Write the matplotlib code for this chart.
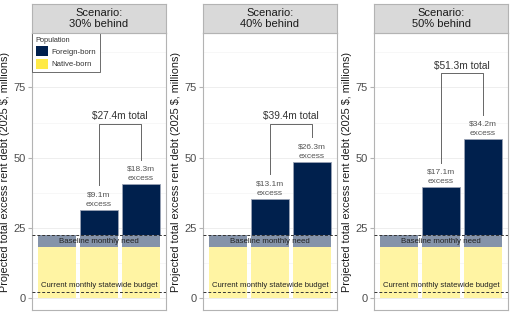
"""
Excess rent debt by scenario: three facet-style panels with stacked bars.
"""
import matplotlib.pyplot as plt
from matplotlib.patches import Patch
from matplotlib.ticker import MultipleLocator

plt.rcParams['font.family'] = ['Liberation Sans', 'DejaVu Sans']

# Data
scenarios = ["30% behind", "40% behind", "50% behind"]
bar_x = [1, 2, 3]
native_level = 18.0          # native-born part, same in every bar
baseline_need = 22.3         # baseline monthly need
statewide_budget = 2.1       # current monthly statewide budget
excess_mid = [9.1, 13.1, 17.1]     # foreign-born excess, bar 2
excess_high = [18.3, 26.3, 34.2]   # foreign-born excess, bar 3
totals = [27.4, 39.4, 51.3]
bracket_top = [62.0, 62.0, 80.0]

# Colours
NAVY = '#00204D'
YELLOW = '#FFEA46'
YELLOW_BAR = '#FFF4A3'
GREY_BAND = '#8593A9'
BORDER = '#B3B3B3'

W, H = 512, 328
fig = plt.figure(figsize=(W / 100, H / 100), dpi=100)

lefts = [32, 203, 374]
pw = 134
top_px, bot_px = 33, 310
strip_top = 4


def frac(x0, y0, w, h):
    return [x0 / W, 1 - (y0 + h) / H, w / W, h / H]


for i, scen in enumerate(scenarios):
    ax = fig.add_axes(frac(lefts[i], top_px, pw, bot_px - top_px))
    ax.set_xlim(0.4, 3.6)
    ax.set_ylim(-4.3, 94.4)

    # grid
    ax.yaxis.set_major_locator(MultipleLocator(25))
    ax.yaxis.set_minor_locator(MultipleLocator(12.5))
    ax.grid(True, which='major', axis='y', color='#EBEBEB', linewidth=0.6)
    ax.grid(True, which='minor', axis='y', color='#F2F2F2', linewidth=0.4)
    ax.set_axisbelow(True)

    # bars: native-born, baseline band, foreign-born excess
    ax.bar(bar_x, [native_level] * 3, width=0.9, color=YELLOW_BAR, zorder=2)
    ax.bar(bar_x, [baseline_need - native_level] * 3, bottom=native_level,
           width=0.9, color=GREY_BAND, zorder=2)
    excess = [excess_mid[i], excess_high[i]]
    ax.bar(bar_x[1:], excess, bottom=baseline_need, width=0.9, color=NAVY,
           edgecolor='#9AA3B5', linewidth=0.6, zorder=3)

    # reference lines
    ax.axhline(baseline_need, color='#333333', linestyle=(0, (3, 2)), linewidth=0.7, zorder=4)
    ax.axhline(statewide_budget, color='#333333', linestyle=(0, (3, 2)), linewidth=0.7, zorder=4)
    ax.text(2, (native_level + baseline_need) / 2, "Baseline monthly need",
            ha='center', va='center', fontsize=5.7, color='#222222', zorder=5)
    ax.text(2, statewide_budget + 2.2, "Current monthly statewide budget",
            ha='center', va='center', fontsize=5.6, color='#222222', zorder=5)

    # excess labels
    tops = [baseline_need + e for e in excess]
    for xb, e, t in zip(bar_x[1:], excess, tops):
        ax.text(xb, t + 0.7, f"${e}m\nexcess", ha='center', va='bottom',
                fontsize=6.0, color='#555555', linespacing=1.5)

    # bracket
    bt = bracket_top[i]
    ax.plot([2, 2, 3, 3], [tops[0] + 8.7, bt, bt, tops[1] + 8.7],
            color='#666666', linewidth=0.7, zorder=4)
    ax.text(2.5, bt + 2.8, f"${totals[i]}m total", ha='center', va='center',
            fontsize=7.3, color='#333333')

    # axes styling
    for s in ax.spines.values():
        s.set_color(BORDER)
        s.set_linewidth(0.8)
    ax.set_xticks([])
    ax.tick_params(axis='y', which='major', length=3, color=BORDER,
                   labelsize=8, labelcolor='#4D4D4D', pad=1.5)
    ax.tick_params(axis='y', which='minor', length=0)
    ax.set_yticks([0, 25, 50, 75])
    ax.set_ylabel("Projected total excess rent debt (2025 $, millions)",
                  fontsize=7.8, color='#1A1A1A', labelpad=2.5)

    # strip
    sax = fig.add_axes(frac(lefts[i], strip_top, pw, top_px - strip_top))
    sax.set_facecolor('#D9D9D9')
    sax.set_xticks([])
    sax.set_yticks([])
    for s in sax.spines.values():
        s.set_color(BORDER)
        s.set_linewidth(0.8)
    sax.text(0.5, 0.5, f"Scenario:\n{scen}", ha='center', va='center',
             fontsize=8, color='#1A1A1A', transform=sax.transAxes, linespacing=1.15)

    if i == 0:
        handles = [Patch(facecolor=NAVY, label='Foreign-born'),
                   Patch(facecolor=YELLOW, label='Native-born')]
        leg = ax.legend(handles=handles, title='Population', loc='upper left',
                        bbox_to_anchor=(0, 1), borderaxespad=0, fontsize=5.6,
                        title_fontsize=5.3, handlelength=1.55, handleheight=1.6,
                        handletextpad=0.5, labelspacing=0.35, borderpad=0.45,
                        fancybox=False, framealpha=1, edgecolor='#555555')
        leg.get_frame().set_linewidth(0.6)
        leg._legend_box.align = 'left'
        for t in leg.get_texts():
            t.set_color('#333333')
        leg.get_title().set_color('#333333')
        leg.set_zorder(10)

fig.savefig('out.png', dpi=100)
